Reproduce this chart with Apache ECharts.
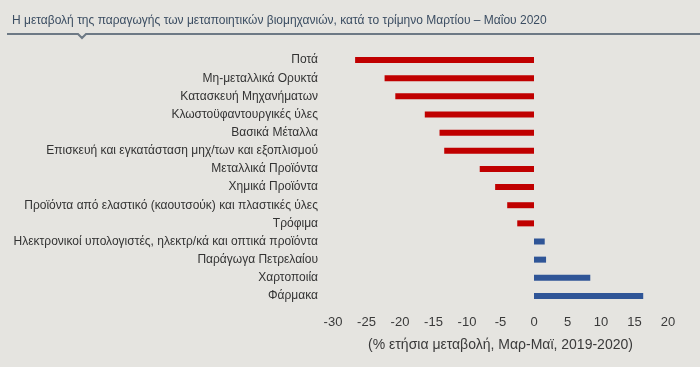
<!DOCTYPE html>
<html>
<head>
<meta charset="utf-8">
<script src="https://cdn.jsdelivr.net/npm/echarts@6/dist/echarts.min.js"></script>
<style>
html,body{margin:0;padding:0;background:#e5e4e0;}
#c{width:700px;height:367px;}
</style>
</head>
<body>
<div id="c"></div>
<script>
const titleText = "Η μεταβολή της παραγωγής των μεταποιητικών βιομηχανιών, κατά το τρίμηνο Μαρτίου – Μαΐου 2020";
const axisName = "(% ετήσια μεταβολή, Μαρ-Μαϊ, 2019-2020)";
const categories = [
  "Ποτά",
  "Μη-μεταλλικά Ορυκτά",
  "Κατασκευή Μηχανήματων",
  "Κλωστοϋφαντουργικές ύλες",
  "Βασικά Μέταλλα",
  "Επισκευή και εγκατάσταση μηχ/των και εξοπλισμού",
  "Μεταλλικά Προϊόντα",
  "Χημικά Προϊόντα",
  "Προϊόντα από ελαστικό (καουτσούκ) και πλαστικές ύλες",
  "Τρόφιμα",
  "Ηλεκτρονικοί υπολογιστές, ηλεκτρ/κά και οπτικά προϊόντα",
  "Παράγωγα Πετρελαίου",
  "Χαρτοποιία",
  "Φάρμακα"
];
const values = [-26.7, -22.3, -20.7, -16.3, -14.1, -13.4, -8.1, -5.8, -4.0, -2.5, 1.6, 1.8, 8.4, 16.3];
const xMin = -30, xMax = 20, xStep = 5;

const chart = echarts.init(document.getElementById('c'), null, {renderer: 'canvas'});
chart.setOption({
  backgroundColor: '#e5e4e0',
  animation: false,
  title: {
    text: titleText,
    left: 7, top: 10,
    textStyle: {fontFamily: 'Liberation Sans, Arial, sans-serif', fontSize: 12, fontWeight: 'normal', color: '#3b4d62'}
  },
  graphic: [
    {type: 'polyline', shape: {points: [[7,34],[78,34],[82,38],[86,34],[700,34]]}, style: {stroke: '#6d7985', lineWidth: 2, fill: null}, silent: true}
  ],
  grid: {left: 333, right: 32, top: 51, bottom: 62},
  xAxis: {
    type: 'value', min: xMin, max: xMax, interval: xStep,
    splitLine: {show: false}, axisLine: {show: false}, axisTick: {show: false},
    axisLabel: {margin: 11, fontFamily: 'Liberation Sans, Arial, sans-serif', fontSize: 13, color: '#3a3a3a'},
    name: axisName, nameLocation: 'middle', nameGap: 33,
    nameTextStyle: {fontFamily: 'Liberation Sans, Arial, sans-serif', fontSize: 14, color: '#3a3a3a'}
  },
  yAxis: {
    type: 'category', data: categories, inverse: true,
    axisLine: {show: false}, axisTick: {show: false}, splitLine: {show: false},
    axisLabel: {margin: 15, fontFamily: 'Liberation Sans, Arial, sans-serif', fontSize: 12, color: '#333'}
  },
  series: [{
    type: 'bar',
    data: values.map(v => ({value: v, itemStyle: {color: v < 0 ? '#c00000' : '#2f5597'}})),
    barWidth: 6
  }]
});
</script>
</body>
</html>
